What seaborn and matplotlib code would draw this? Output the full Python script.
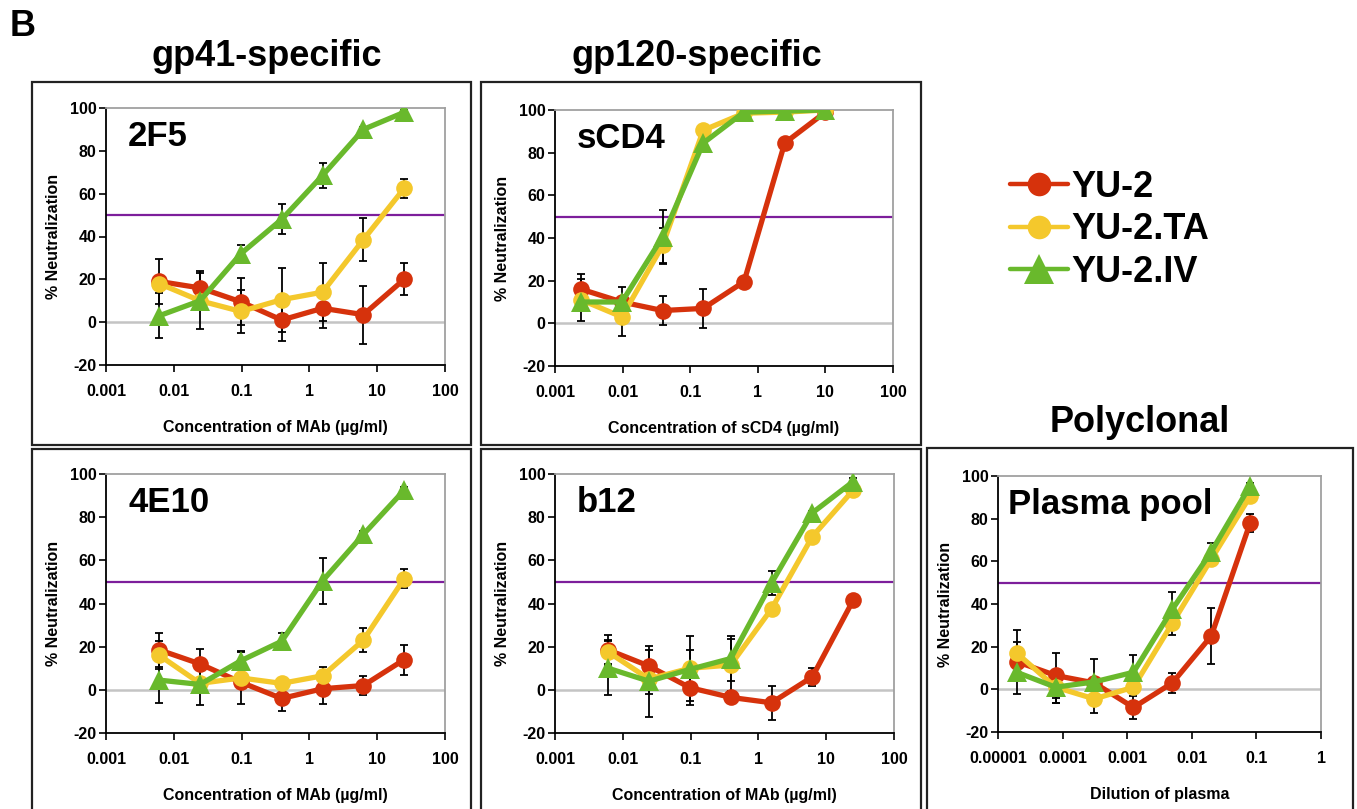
import numpy as np
import pandas as pd
import matplotlib
matplotlib.use('Agg')
import matplotlib.pyplot as plt
from matplotlib.lines import Line2D
from matplotlib.patches import Rectangle
import seaborn as sns

# --- data ---
viruses = ['YU-2', 'YU-2.TA', 'YU-2.IV']

mab_conc = [0.0061, 0.0244, 0.0977, 0.39, 1.5625, 6.25, 25]
scd4_conc = [0.00244, 0.00977, 0.039, 0.156, 0.625, 2.5, 10]
plasma_dil = [0.0000195, 0.000078, 0.00031, 0.00125, 0.005, 0.02, 0.08]

# 2F5
f5_yu2 = [19, 16, 9.5, 1, 6.5, 3.5, 20]
f5_yu2_err = [10.5, 8, 11, 10, 9, 13.5, 7.5]
f5_ta = [18, 10, 5, 10.5, 14, 38.5, 62.5]
f5_ta_err = [0, 0, 10, 15, 13.5, 10, 4.5]
f5_iv = [3, 10, 32, 48, 68.5, 90, 98]
f5_iv_err = [10.5, 13, 4, 7, 6, 1, 1]

# sCD4
cd4_yu2 = [16, 10, 6, 7, 19.5, 84.5, 99]
cd4_yu2_err = [7, 7, 7, 9, 2, 1, 1]
cd4_ta = [11, 3, 36.5, 90.5, 98.5, 99, 100]
cd4_ta_err = [10, 9, 8, 1, 1, 0, 0]
cd4_iv = [10, 10, 40.5, 84.5, 99, 99.5, 100]
cd4_iv_err = [0, 0, 12.5, 1, 1, 0, 0]

# 4E10
e10_yu2 = [18.5, 12, 3.5, -4, 0.5, 2, 14]
e10_yu2_err = [8, 7, 0, 6, 7, 4.5, 7]
e10_ta = [16, 3, 5.5, 3, 6.5, 23, 51.5]
e10_ta_err = [6.5, 0, 12, 0, 4, 5.5, 4.5]
e10_iv = [4.5, 2.5, 13.5, 22.5, 50.5, 72, 92.5]
e10_iv_err = [10.5, 9.5, 4.5, 4, 10.5, 1.5, 1.5]

# b12
b12_yu2 = [18.5, 11, 1, -3.5, -6, 6, 41.5]
b12_yu2_err = [7, 7.5, 8, 0, 8, 4, 1]
b12_ta = [17.5, 5, 10, 11.5, 37.5, 71, 92.5]
b12_ta_err = [5.5, 7, 15, 12, 0, 0, 1]
b12_iv = [10, 4, 9.5, 14.5, 49.5, 82, 96.5]
b12_iv_err = [12.5, 16.5, 9, 10.5, 5.5, 1, 1.5]

# plasma pool
pl_yu2 = [13, 6.5, 3, -8.5, 3, 25, 78]
pl_yu2_err = [9, 10.5, 0, 5.5, 4.5, 13, 4.3]
pl_ta = [17, 1, -4.5, 1, 31, 61, 90.5]
pl_ta_err = [11, 7.5, 6.5, 0, 5.5, 0, 0]
pl_iv = [8, 1, 3.5, 8, 37.5, 64.5, 95.5]
pl_iv_err = [10, 7.5, 10.5, 8, 8, 4, 1]

mab_ticks = [0.001, 0.01, 0.1, 1, 10, 100]
mab_ticklabels = ['0.001', '0.01', '0.1', '1', '10', '100']
pl_ticks = [0.00001, 0.0001, 0.001, 0.01, 0.1, 1]
pl_ticklabels = ['0.00001', '0.0001', '0.001', '0.01', '0.1', '1']

colors = {'YU-2': '#d6320c', 'YU-2.TA': '#f4c82c', 'YU-2.IV': '#69b92c'}
markers = {'YU-2': 'o', 'YU-2.TA': 'o', 'YU-2.IV': '^'}
msizes = {'YU-2': 12, 'YU-2.TA': 12, 'YU-2.IV': 14}

sns.set_style('white')
plt.rcParams['font.family'] = ['Liberation Sans', 'DejaVu Sans']
plt.rcParams['font.weight'] = 'bold'
plt.rcParams['axes.unicode_minus'] = False
for k in ['text.color', 'axes.labelcolor', 'xtick.color', 'ytick.color']:
    plt.rcParams[k] = 'black'

W, H = 1357, 809
fig = plt.figure(figsize=(W / 100, H / 100), dpi=100)


def px_axes(l, t, r, b):
    return fig.add_axes([l / W, (H - b) / H, (r - l) / W, (b - t) / H])


def make_df(x, ys, errs):
    rows = []
    for v, yv, ev in zip(viruses, ys, errs):
        for xi, yi, ei in zip(x, yv, ev):
            rows.append({'x': xi, 'y': yi, 'err': ei, 'virus': v})
    return pd.DataFrame(rows)


def draw_panel(ax, df, name, xlabel, ticks, ticklabels, name_x=0.065):
    ax.set_xscale('log')
    ax.axhline(0, color='#c4c4c4', lw=1.8, zorder=1)
    ax.axhline(50, color='#7d1e9b', lw=1.6, zorder=1)
    for i, v in enumerate(viruses):
        sub = df[df['virus'] == v]
        eb = sub[sub['err'] > 0]
        ax.errorbar(eb['x'], eb['y'], yerr=eb['err'], fmt='none', ecolor='black',
                    elinewidth=1.3, capsize=3, capthick=1.3, zorder=2)
    for i, v in enumerate(viruses):
        sub = df[df['virus'] == v]
        sns.lineplot(data=sub, x='x', y='y', ax=ax, color=colors[v], marker=markers[v],
                     markersize=msizes[v], markeredgewidth=0, linewidth=3.8,
                     sort=False, legend=False, zorder=3 + i)
    ax.set_xlim(ticks[0], ticks[-1])
    ax.set_ylim(-20, 100)
    ax.set_yticks([-20, 0, 20, 40, 60, 80, 100])
    ax.set_xticks(ticks)
    ax.set_xticklabels(ticklabels)
    ax.minorticks_off()
    ax.tick_params(axis='both', labelsize=11.5, length=5, width=1.2, color='black',
                   direction='out', left=True, bottom=True)
    ax.tick_params(axis='x', pad=9)
    ax.tick_params(axis='y', pad=2)
    for s in ['left', 'bottom']:
        ax.spines[s].set_color('black')
        ax.spines[s].set_linewidth(1.3)
    for s in ['top', 'right']:
        ax.spines[s].set_color('#a0a0a0')
        ax.spines[s].set_linewidth(1.3)
    ax.set_xlabel(xlabel, fontsize=11.5, fontweight='bold', labelpad=15)
    ax.set_ylabel('% Neutralization', fontsize=11.5, fontweight='bold', labelpad=6)
    ax.text(name_x, 0.955, name, transform=ax.transAxes, fontsize=25,
            fontweight='bold', va='top', ha='left', zorder=10)


# panel frames
for l, t, r, b in [(32, 82, 471, 445), (481, 82, 921, 445), (32, 449, 471, 812),
                   (481, 449, 921, 812), (927, 448, 1353, 812)]:
    fig.add_artist(Rectangle((l / W, (H - b) / H), (r - l) / W, (b - t) / H,
                             transform=fig.transFigure, fill=False, lw=1.6,
                             edgecolor='#222222'))

ax1 = px_axes(106, 108, 445, 365)
draw_panel(ax1, make_df(mab_conc, [f5_yu2, f5_ta, f5_iv], [f5_yu2_err, f5_ta_err, f5_iv_err]),
           '2F5', 'Concentration of MAb (µg/ml)', mab_ticks, mab_ticklabels)

ax2 = px_axes(555, 110, 893, 366)
draw_panel(ax2, make_df(scd4_conc, [cd4_yu2, cd4_ta, cd4_iv], [cd4_yu2_err, cd4_ta_err, cd4_iv_err]),
           'sCD4', 'Concentration of sCD4 (µg/ml)', mab_ticks, mab_ticklabels)

ax3 = px_axes(106, 474, 445, 733)
draw_panel(ax3, make_df(mab_conc, [e10_yu2, e10_ta, e10_iv], [e10_yu2_err, e10_ta_err, e10_iv_err]),
           '4E10', 'Concentration of MAb (µg/ml)', mab_ticks, mab_ticklabels)

ax4 = px_axes(555, 474, 894, 733)
draw_panel(ax4, make_df(mab_conc, [b12_yu2, b12_ta, b12_iv], [b12_yu2_err, b12_ta_err, b12_iv_err]),
           'b12', 'Concentration of MAb (µg/ml)', mab_ticks, mab_ticklabels)

ax5 = px_axes(998, 476, 1321, 732)
draw_panel(ax5, make_df(plasma_dil, [pl_yu2, pl_ta, pl_iv], [pl_yu2_err, pl_ta_err, pl_iv_err]),
           'Plasma pool', 'Dilution of plasma', pl_ticks, pl_ticklabels, name_x=0.03)

# headings
fig.text(10 / W, 1 - 27 / H, 'B', fontsize=26, fontweight='bold', ha='left', va='center')
fig.text(267 / W, 1 - 57 / H, 'gp41-specific', fontsize=26, fontweight='bold', ha='center', va='center')
fig.text(697 / W, 1 - 57 / H, 'gp120-specific', fontsize=26, fontweight='bold', ha='center', va='center')
fig.text(1140 / W, 1 - 423 / H, 'Polyclonal', fontsize=26, fontweight='bold', ha='center', va='center')

# legend
leg_ms = {'YU-2': 17, 'YU-2.TA': 17, 'YU-2.IV': 21}
handles = [Line2D([0], [0], color=colors[v], marker=markers[v], markersize=leg_ms[v],
                  markeredgewidth=0, lw=3.2) for v in viruses]
fig.legend(handles, viruses, loc='upper left', bbox_to_anchor=(992 / W, 1 - 152 / H),
           frameon=False, prop={'weight': 'bold', 'size': 26},
           handlelength=1.6, handletextpad=0.1, labelspacing=0.2, borderpad=0)

fig.savefig('out.png', dpi=100)
